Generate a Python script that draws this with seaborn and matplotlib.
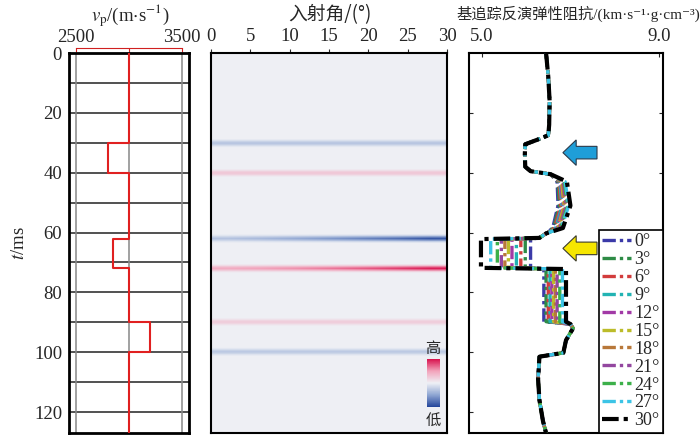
import numpy as np
import matplotlib
matplotlib.use('Agg')
import matplotlib.pyplot as plt
from matplotlib.colors import LinearSegmentedColormap
from matplotlib.patches import FancyArrow
import seaborn as sns

sns.set_style('white')
plt.rcParams['font.family'] = ['Liberation Serif', 'DejaVu Sans', 'Noto Sans CJK SC']
plt.rcParams['mathtext.fontset'] = 'stix'

t_max = 127

# velocity model (layer tops in ms, vp in m/s)
layer_top = [0, 30, 40, 62, 72, 90, 100]
layer_vp = [3000, 2800, 3000, 2850, 3000, 3200, 3000]

# angle gather: reflector times and amplitudes at 0,5,...,30 deg
gather_angles = [0, 5, 10, 15, 20, 25, 30]
refl_t = [30, 40, 62, 72, 90, 100]
amp_30 = [-0.3, -0.3, -0.3, -0.3, -0.3, -0.3, -0.3]
amp_40 = [0.28, 0.28, 0.28, 0.28, 0.28, 0.28, 0.28]
amp_62 = [-0.3, -0.36, -0.45, -0.55, -0.66, -0.77, -0.9]
amp_72 = [0.45, 0.5, 0.57, 0.66, 0.76, 0.87, 0.98]
amp_90 = [0.24, 0.24, 0.24, 0.24, 0.24, 0.24, 0.24]
amp_100 = [-0.27, -0.27, -0.27, -0.27, -0.27, -0.27, -0.27]
wavelet = [0.25, 0.7, 1.0, 0.7, 0.25]

# inverted elastic impedance
angles = [0, 3, 6, 9, 12, 15, 18, 21, 24, 27, 30]
colors = ['#3b3aa8', '#2e8b46', '#d23c3c', '#22b3b3', '#a23aa6', '#bcbc2a',
          '#b8783a', '#93479f', '#3cb04a', '#3cc4e6', '#000000']
t_upper = [0, 8, 16, 24, 27.5, 29, 30.5, 34, 38, 39.5, 40.5]
imp_upper = [6.45, 6.5, 6.53, 6.52, 6.5, 6.25, 5.98, 5.97, 5.98, 6.1, 6.55]
t_layer_a = [43, 51, 58.5]
imp_a_top = [6.7, 6.72, 6.74, 6.76, 6.78, 6.8, 6.82, 6.84, 6.86, 6.88, 6.92]
imp_a_mid = [6.72, 6.75, 6.78, 6.81, 6.84, 6.86, 6.88, 6.91, 6.94, 6.96, 7.0]
imp_a_bot = [6.6, 6.62, 6.64, 6.67, 6.7, 6.72, 6.74, 6.76, 6.78, 6.8, 6.83]
t_bend = [60.3, 61.8]
imp_bend = [6.45, 6.3]
t_layer_b = [62.2, 71.8]
imp_b = [6.1, 5.98, 5.88, 5.78, 5.68, 5.6, 5.52, 5.44, 5.35, 5.2, 4.98]
t_layer_c = [72.2, 89.8]
imp_c = [6.4, 6.45, 6.5, 6.54, 6.58, 6.62, 6.66, 6.7, 6.76, 6.82, 6.9]
t_lower = [90.6, 92, 96, 100.2, 101.5, 109, 116, 123, 127]
imp_lower = [7.0, 7.06, 6.9, 6.84, 6.3, 6.27, 6.3, 6.38, 6.45]

fig = plt.figure(figsize=(7, 4.38), dpi=100)
ax1 = fig.add_axes([69 / 700, 5 / 438, 120 / 700, 380 / 438])
ax2 = fig.add_axes([211 / 700, 5 / 438, 236 / 700, 380 / 438])
ax3 = fig.add_axes([469 / 700, 5 / 438, 194 / 700, 380 / 438])

# ---- velocity panel
for y in range(10, t_max, 10):
    ax1.axhline(y, color='#222222', lw=1.1, zorder=1)
for x in [2500, 3000, 3500]:
    ax1.axvline(x, color='#888888', lw=1.1, zorder=1)
t_vel = np.repeat(layer_top + [t_max], 2)[1:-1]
v_vel = np.repeat(layer_vp, 2)
sns.lineplot(x=v_vel, y=t_vel, sort=False, estimator=None, orient='y',
             color='#e02020', lw=1.5, ax=ax1, zorder=3)
ax1.set_xlim(2434, 3566)
ax1.set_ylim(t_max, 0)
ax1.set_xticks([])
ax1.set_yticks(range(0, 121, 20))
ax1.tick_params(axis='y', length=0, labelsize=13.5, pad=5)
ax1.set_ylabel('$t$/ms', fontsize=13.5, labelpad=4)
ax1.set_xlabel('')
for s in ax1.spines.values():
    s.set_linewidth(2)
    s.set_color('black')
sec = ax1.secondary_xaxis(1.012)
sec.set_xticks([2500, 3000, 3500])
sec.set_xticklabels(['2500', '', '3500'])
sec.spines['top'].set_color('#d02020')
sec.spines['top'].set_bounds(2500, 3500)
sec.tick_params(direction='in', color='#d02020', length=3, labelsize=13.5, pad=2)
fig.text(130 / 700, 1 - 16 / 438, r'$v_\mathrm{p}$/(m$\cdot$s$^{-1}$)',
         ha='center', va='center', fontsize=13.5)

# ---- angle gather panel
t_grid = np.arange(0, t_max + 0.5, 0.5)
img = np.zeros((len(t_grid), len(gather_angles)))
for tr, amp in zip(refl_t, [amp_30, amp_40, amp_62, amp_72, amp_90, amp_100]):
    i0 = int(round(tr / 0.5))
    for k, w in enumerate(wavelet):
        img[i0 + k - 2] += w * np.array(amp)
cmap = LinearSegmentedColormap.from_list(
    'gather', ['#22449a', '#8ea5d2', '#eef0f5', '#f2a3bb', '#d8124e'])
im = ax2.imshow(img, extent=[0, 30, t_max, 0], aspect='auto',
                interpolation='bilinear', cmap=cmap, vmin=-1, vmax=1)
ax2.xaxis.tick_top()
ax2.set_xticks(range(0, 31, 5))
ax2.set_yticks(range(0, 121, 20))
ax2.set_yticklabels([])
ax2.tick_params(axis='x', direction='out', length=3, labelsize=13.5, pad=3)
ax2.tick_params(axis='y', direction='out', length=3)
for s in ax2.spines.values():
    s.set_linewidth(1.5)
    s.set_color('black')
fig.text(330 / 700, 1 - 15 / 438, '入射角/(°)', ha='center', va='center',
         fontsize=13.5, family=['Noto Sans CJK SC', 'DejaVu Sans'])
cax = fig.add_axes([427 / 700, 1 - 407 / 438, 13 / 700, 48 / 438])
cb = fig.colorbar(im, cax=cax)
cb.set_ticks([])
cb.outline.set_visible(False)
fig.text(433 / 700, 1 - 349 / 438, '高', ha='center', va='center', fontsize=11,
         family=['Noto Sans CJK SC'])
fig.text(433 / 700, 1 - 420 / 438, '低', ha='center', va='center', fontsize=11,
         family=['Noto Sans CJK SC'])

# ---- impedance panel
dash = (0, (4, 1.2, 1, 1.2))
for i, ang in enumerate(angles):
    tt = t_upper + t_layer_a + t_bend + t_layer_b + t_layer_c + t_lower
    vv = (imp_upper + [imp_a_top[i], imp_a_mid[i], imp_a_bot[i]] + imp_bend
          + [imp_b[i]] * 2 + [imp_c[i]] * 2 + imp_lower)
    sns.lineplot(x=vv, y=tt, sort=False, estimator=None, orient='y',
                 color=colors[i], lw=3.0 if ang == 30 else 2.4,
                 linestyle=dash, label=f'{ang}°', ax=ax3, zorder=3 + i)
ax3.set_xlim(4.71, 9.09)
ax3.set_ylim(t_max, 0)
ax3.xaxis.tick_top()
ax3.set_xticks([5.0, 9.0])
ax3.set_xticklabels(['5.0', '9.0'])
ax3.set_yticks(range(20, 121, 20))
ax3.set_yticklabels([])
ax3.tick_params(axis='x', direction='in', length=3, labelsize=13.5, pad=6)
ax3.tick_params(axis='y', direction='in', length=3, left=True, right=True)
ax3.set_xlabel('')
ax3.set_ylabel('')
for s in ax3.spines.values():
    s.set_linewidth(1.5)
    s.set_color('black')
ax3.add_patch(FancyArrow(7.6, 33.3, -0.77, 0, width=4.2, head_width=8.5,
                         head_length=0.3, length_includes_head=True,
                         facecolor='#1f9ed8', edgecolor='#2a3a4a', lw=0.8, zorder=20))
ax3.add_patch(FancyArrow(7.6, 65.3, -0.77, 0, width=4.2, head_width=8.5,
                         head_length=0.3, length_includes_head=True,
                         facecolor='#f6e600', edgecolor='#3a3a2a', lw=0.8, zorder=20))
leg = ax3.legend(loc='lower right', bbox_to_anchor=(1, 0), borderaxespad=0,
                 fontsize=13, labelspacing=0.05, handlelength=1.6,
                 handletextpad=0.15, borderpad=0.2, fancybox=False,
                 edgecolor='black', framealpha=1)
leg.get_frame().set_linewidth(1.2)
leg.set_zorder(30)
fig.text(578 / 700, 1 - 14 / 438, '基追踪反演弹性阻抗/(km·s⁻¹·g·cm⁻³)',
         ha='center', va='center', fontsize=11)

fig.savefig('out.png', dpi=100)
